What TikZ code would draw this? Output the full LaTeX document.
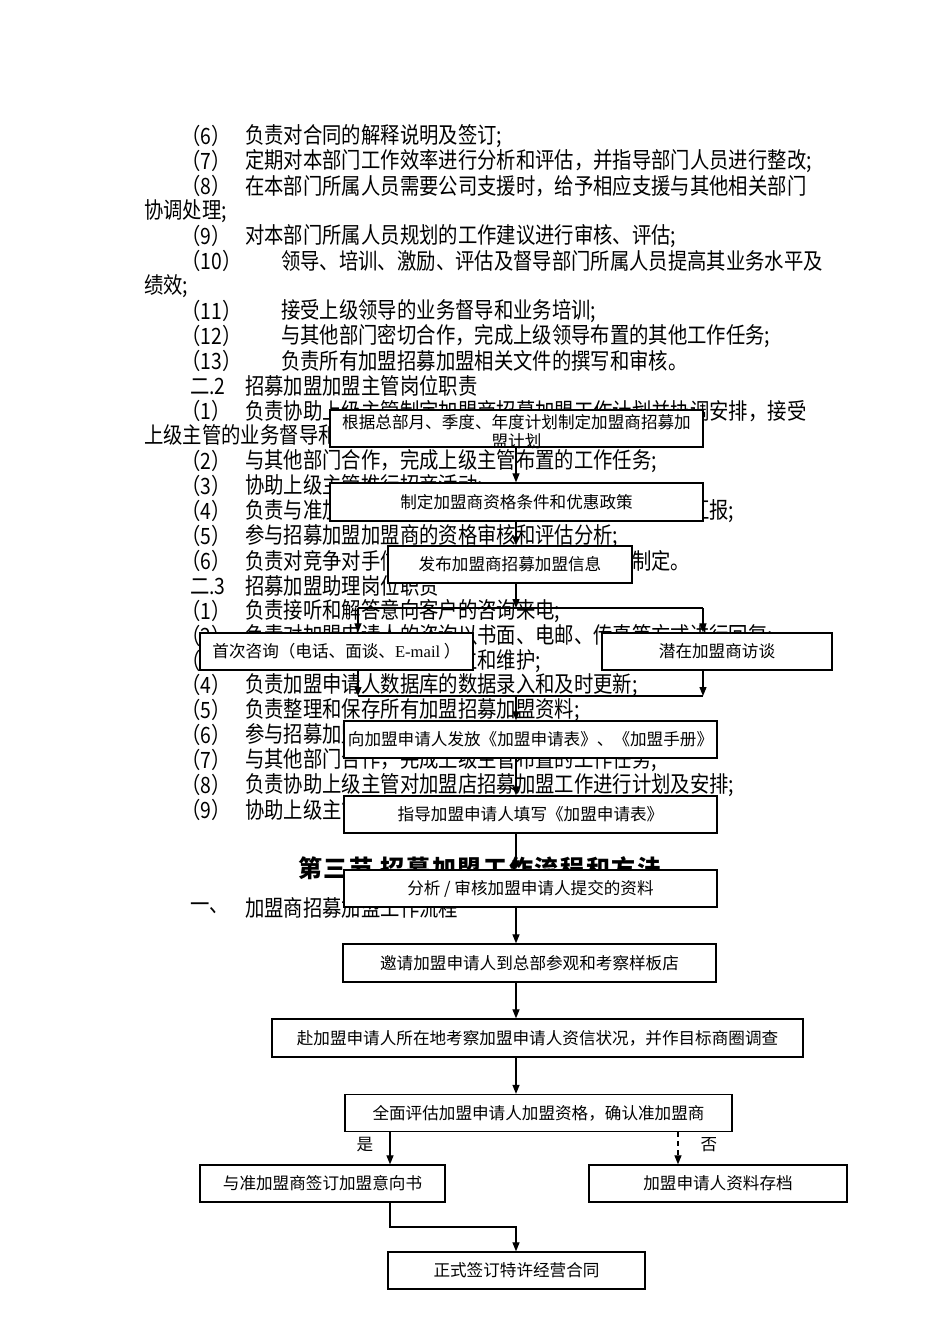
\documentclass[tikz,border=0pt]{standalone}
\usepackage{fontspec}
\usetikzlibrary{arrows.meta}
\newfontfamily\bodyfont[FakeStretch=0.86]{Noto Sans CJK SC}
\newfontfamily\boxfont{Noto Sans CJK SC}
\newfontfamily\headfont[LetterSpace=7]{Noto Sans CJK SC}
\newfontfamily\latinfont{Liberation Serif}
\begin{document}
\begin{tikzpicture}[x=1pt,y=-1pt,
  body/.style={anchor=west, inner sep=0pt, font=\bodyfont\fontsize{22.5}{25}\selectfont},
  fbox/.style={draw, fill=white, line width=1.3pt, minimum height=37pt, inner sep=0pt, font=\boxfont\fontsize{16.6}{19}\selectfont},
  boxtxt/.style={inner sep=0pt, font=\boxfont\fontsize{16.6}{19}\selectfont},
  conn/.style={line width=1.2pt},
  arr/.style={conn, -{Triangle[length=9pt,width=7pt]}},
  lbl/.style={inner sep=0pt, font=\boxfont\fontsize{16.6}{19}\selectfont}]
\useasboundingbox (0,0) rectangle (950,1344);
\fill[white] (0,0) rectangle (950,1344);

% ---------- background document text ----------
\node[body] (n01) at (181,136) {（6）};
\node[body] (t01) at (245,136) {负责对合同的解释说明及签订;};
\node[body] (n02) at (181,161) {（7）};
\node[body] (t02) at (245,161) {定期对本部门工作效率进行分析和评估，并指导部门人员进行整改;};
\node[body] (n03) at (181,186) {（8）};
\node[body] (t03) at (245,186) {在本部门所属人员需要公司支援时，给予相应支援与其他相关部门};
\node[body] (t04) at (144,211) {协调处理;};
\node[body] (n05) at (181,236) {（9）};
\node[body] (t05) at (245,236) {对本部门所属人员规划的工作建议进行审核、评估;};
\node[body] (n06) at (181,261) {（10）};
\node[body] (t06) at (281,261) {领导、培训、激励、评估及督导部门所属人员提高其业务水平及};
\node[body] (t07) at (144,286) {绩效;};
\node[body] (n08) at (181,311) {（11）};
\node[body] (t08) at (281,311) {接受上级领导的业务督导和业务培训;};
\node[body] (n09) at (181,336) {（12）};
\node[body] (t09) at (281,336) {与其他部门密切合作，完成上级领导布置的其他工作任务;};
\node[body] (n10) at (181,361) {（13）};
\node[body] (t10) at (281,361) {负责所有加盟招募加盟相关文件的撰写和审核。};
\node[body] (n11) at (190,386) {二.2};
\node[body] (t11) at (245,386) {招募加盟加盟主管岗位职责};
\node[body] (n12) at (181,411) {（1）};
\node[body] (t12) at (245,411) {负责协助上级主管制定加盟商招募加盟工作计划并协调安排，接受};
\node[body] (t13) at (144,436) {上级主管的业务督导和培训;};
\node[body] (n14) at (181,461) {（2）};
\node[body] (t14) at (245,461) {与其他部门合作，完成上级主管布置的工作任务;};
\node[body] (n15) at (181,486) {（3）};
\node[body] (t15) at (245,486) {协助上级主管推行招商活动;};
\node[body] (n16) at (181,511) {（4）};
\node[body] (t16) at (245,511) {负责与准加盟商进行洽谈和沟通，并及时向上级主管汇报;};
\node[body] (n17) at (181,536) {（5）};
\node[body] (t17) at (245,536) {参与招募加盟加盟商的资格审核和评估分析;};
\node[body] (n18) at (181,561) {（6）};
\node[body] (t18) at (245,561) {负责对竞争对手信息的收集、分析及招商政策制定。};
\node[body] (n19) at (190,586) {二.3};
\node[body] (t19) at (245,586) {招募加盟助理岗位职责};
\node[body] (n20) at (181,611) {（1）};
\node[body] (t20) at (245,611) {负责接听和解答意向客户的咨询来电;};
\node[body] (n21) at (181,636) {（2）};
\node[body] (t21) at (245,636) {负责对加盟申请人的咨询以书面、电邮、传真等方式进行回复;};
\node[body] (n22) at (181,661) {（3）};
\node[body] (t22) at (245,661) {负责加盟申请人档案的建立和维护;};
\node[body] (n23) at (181,685) {（4）};
\node[body] (t23) at (245,685) {负责加盟申请人数据库的数据录入和及时更新;};
\node[body] (n24) at (181,710) {（5）};
\node[body] (t24) at (245,710) {负责整理和保存所有加盟招募加盟资料;};
\node[body] (n25) at (181,735) {（6）};
\node[body] (t25) at (245,735) {参与招募加盟加盟商的资格审核和评估分析;};
\node[body] (n26) at (181,760) {（7）};
\node[body] (t26) at (245,760) {与其他部门合作，完成上级主管布置的工作任务;};
\node[body] (n27) at (181,785) {（8）};
\node[body] (t27) at (245,785) {负责协助上级主管对加盟店招募加盟工作进行计划及安排;};
\node[body] (n28) at (181,810) {（9）};
\node[body] (t28) at (245,810) {协助上级主管推行招商活动。};
\node[anchor=west, inner sep=0pt, font=\headfont\bfseries\fontsize{24}{28}\selectfont] (h3) at (298,868) {第三节 招募加盟工作流程和方法};
\node[body] (n30) at (190,908) {一、};
\node[body] (t30) at (245,908) {加盟商招募加盟工作流程};

% ---------- coordinates ----------
\coordinate (ax) at (516,0);
\coordinate (xl) at (358,0);
\coordinate (xr) at (703,0);
\coordinate (xy) at (390,0);
\coordinate (xn) at (678,0);
\coordinate (sp) at (0,608);
\coordinate (jn) at (0,696);
\coordinate (el) at (0,1227);

% ---------- flowchart boxes ----------
\node[fbox, minimum width=373pt] (b1) at (516.5,428.5) {};
\node[fbox, minimum width=373pt, minimum height=38pt] (b2) at (516.5,502) {制定加盟商资格条件和优惠政策};
\node[fbox, minimum width=244pt] (b3) at (510,564.5) {发布加盟商招募加盟信息};
\node[fbox, minimum width=273pt] (b4) at (336.5,651.5) {首次咨询（电话、面谈、{\latinfont E-mail} ）};
\node[fbox, minimum width=230pt] (b5) at (717,651.5) {潜在加盟商访谈};
\node[fbox, minimum width=373pt] (b6) at (530.5,739.5) {向加盟申请人发放《加盟申请表》、《加盟手册》};
\node[fbox, minimum width=373pt] (b7) at (530.5,814.5) {指导加盟申请人填写《加盟申请表》};
\node[fbox, minimum width=373pt] (b8) at (530.5,888.5) {分析 / 审核加盟申请人提交的资料};
\node[fbox, minimum width=373pt, minimum height=38pt] (b9) at (529.5,963) {邀请加盟申请人到总部参观和考察样板店};
\node[fbox, minimum width=531pt, minimum height=38pt] (b10) at (537.5,1038) {赴加盟申请人所在地考察加盟申请人资信状况，并作目标商圈调查};
\node[fbox, minimum width=387pt] (b11) at (538.5,1113) {全面评估加盟申请人加盟资格，确认准加盟商};
\node[fbox, minimum width=245pt] (b12) at (322.5,1183.5) {与准加盟商签订加盟意向书};
\node[fbox, minimum width=258pt] (b13) at (718,1183.5) {加盟申请人资料存档};
\node[fbox, minimum width=257pt] (b14) at (516.5,1270.5) {正式签订特许经营合同};

% ---------- connectors ----------
\draw[arr] (b1.south -| ax) -- (b2.north -| ax);
\node[boxtxt, anchor=north, align=center] (b1t) at (516.5,414) {根据总部月、季度、年度计划制定加盟商招募加\\盟计划};
\draw[arr] (b2.south -| ax) -- (b3.north -| ax);
\draw[arr] (b3.south -| ax) -- (ax |- sp);
\draw[conn] (xl |- sp) -- (xr |- sp);
\draw[arr] (xl |- sp) -- (b4.north -| xl);
\draw[arr] (xr |- sp) -- (b5.north -| xr);
\draw[arr] (b4.south -| xl) -- (xl |- jn);
\draw[arr] (b5.south -| xr) -- (xr |- jn);
\draw[conn] (xl |- jn) -- (xr |- jn);
\draw[arr] (ax |- jn) -- (b6.north -| ax);
\draw[arr] (b6.south -| ax) -- (b7.north -| ax);
\draw[arr] (b7.south -| ax) -- (b8.north -| ax);
\draw[arr] (b8.south -| ax) -- (b9.north -| ax);
\draw[arr] (b9.south -| ax) -- (b10.north -| ax);
\draw[arr] (b10.south -| ax) -- (b11.north -| ax);
\draw[arr] (b11.south -| xy) -- (b12.north -| xy);
\draw[arr, dashed, dash pattern=on 5pt off 4pt] (b11.south -| xn) -- (b13.north -| xn);
\draw[arr] (b12.south -| xy) -- (xy |- el) -- (ax |- el) -- (b14.north -| ax);
\node[lbl] (yes) at (365,1145) {是};
\node[lbl] (no) at (709,1145) {否};
\end{tikzpicture}
\end{document}
